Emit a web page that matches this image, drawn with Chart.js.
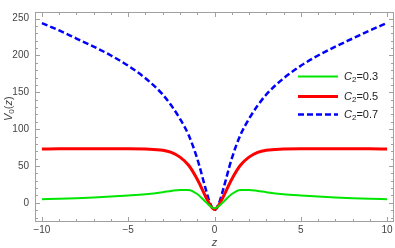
<!DOCTYPE html>
<html lang="en">
<head>
  <meta charset="UTF-8" />
  <title>V0(z) chart</title>
  <script src="https://cdn.jsdelivr.net/npm/chart.js"></script>
  <style>
    body { margin: 0; background: #fff; }
    canvas { display: block; }
  </style>
</head>
<body>
  <canvas id="chart" width="395" height="248"></canvas>

  <script>
    // values
    const zVals = [-10, -9, -8, -7, -6, -5, -4, -3, -2.5, -2, -1.5, -1, -0.5, -0.25, 0,
                   0.25, 0.5, 1, 1.5, 2, 2.5, 3, 4, 5, 6, 7, 8, 9, 10];
    const c03 = [5, 5.5, 6.3, 7.3, 8.5, 10, 11.8, 14.5, 16.2, 17.5, 17.5, 12, 1, -4.5, -7.5,
                 -4.5, 1, 12, 17.5, 17.5, 16.2, 14.5, 11.8, 10, 8.5, 7.3, 6.3, 5.5, 5];
    const c05 = [73, 73.3, 73.5, 73.5, 73.5, 73.5, 73, 71.5, 68.5, 62, 51, 32, 8, -3, -9,
                 -3, 8, 32, 51, 62, 68.5, 71.5, 73, 73.5, 73.5, 73.5, 73.5, 73.3, 73];
    const c07 = [244, 234, 223, 212, 200, 186, 169, 147, 132, 114, 92, 60, 18, -1, -10,
                 -1, 18, 60, 92, 114, 132, 147, 169, 186, 200, 212, 223, 234, 244];
    const seriesLabels = ['0.3', '0.5', '0.7'];
    const xMajor = [-10, -5, 0, 5, 10];
    const yMajor = [0, 50, 100, 150, 200, 250];

    const pts = arr => arr.map((v, i) => ({ x: zVals[i], y: v }));
    const frameCol = '#a0a0a0';

    // frame, inside ticks, axis titles and legend
    const decor = {
      id: 'decor',
      afterDraw(chart) {
        const ctx = chart.ctx;
        const a = chart.chartArea;
        const xs = chart.scales.x, ys = chart.scales.y;
        ctx.save();
        ctx.strokeStyle = frameCol;
        ctx.lineWidth = 1;
        ctx.strokeRect(a.left + 0.5, a.top + 0.5, a.right - a.left - 1, a.bottom - a.top - 1);
        ctx.beginPath();
        for (let z = -10; z <= 10; z++) {
          const px = Math.round(xs.getPixelForValue(z)) + 0.5;
          const len = (z % 5 === 0) ? 5 : 3;
          ctx.moveTo(px, a.bottom); ctx.lineTo(px, a.bottom - len);
          ctx.moveTo(px, a.top); ctx.lineTo(px, a.top + len);
        }
        for (let v = -20; v <= 250; v += 10) {
          const py = Math.round(ys.getPixelForValue(v)) + 0.5;
          const len = (v % 50 === 0) ? 5 : 3;
          ctx.moveTo(a.left, py); ctx.lineTo(a.left + len, py);
          ctx.moveTo(a.right, py); ctx.lineTo(a.right - len, py);
        }
        ctx.stroke();

        // axis titles
        ctx.fillStyle = '#444';
        ctx.textAlign = 'center';
        ctx.textBaseline = 'middle';
        ctx.font = 'italic 11px "Liberation Sans"';
        ctx.fillText('z', xs.getPixelForValue(0), 243);

        ctx.translate(9, 106);
        ctx.rotate(-Math.PI / 2);
        ctx.textAlign = 'left';
        let x = -15;
        ctx.font = 'italic 11px "Liberation Sans"';
        ctx.fillText('V', x, 0); x += ctx.measureText('V').width;
        ctx.font = '8px "Liberation Sans"';
        ctx.fillText('0', x, 3); x += ctx.measureText('0').width;
        ctx.font = '11px "Liberation Sans"';
        ctx.fillText('(', x, 0); x += ctx.measureText('(').width;
        ctx.font = 'italic 11px "Liberation Sans"';
        ctx.fillText('z', x, 0); x += ctx.measureText('z').width;
        ctx.font = '11px "Liberation Sans"';
        ctx.fillText(')', x, 0);
        ctx.setTransform(1, 0, 0, 1, 0, 0);

        // legend
        const rows = [76, 96, 114];
        chart.data.datasets.forEach((ds, i) => {
          const y = rows[i] + 0.5;
          ctx.strokeStyle = ds.borderColor;
          ctx.lineWidth = ds.borderWidth;
          ctx.setLineDash(ds.borderDash || []);
          ctx.beginPath();
          ctx.moveTo(298, y); ctx.lineTo(338, y);
          ctx.stroke();
          ctx.setLineDash([]);
          ctx.fillStyle = '#222';
          ctx.textAlign = 'left';
          ctx.textBaseline = 'middle';
          let tx = 344;
          ctx.font = 'italic 11px "Liberation Sans"';
          ctx.fillText('C', tx, y); tx += ctx.measureText('C').width;
          ctx.font = '8px "Liberation Sans"';
          ctx.fillText('2', tx, y + 3); tx += ctx.measureText('2').width;
          ctx.font = '11px "Liberation Sans"';
          ctx.fillText('=' + seriesLabels[i], tx, y);
        });
        ctx.restore();
      }
    };

    new Chart(document.getElementById('chart'), {
      type: 'line',
      data: {
        datasets: [
          { label: 'C2=0.3', data: pts(c03), borderColor: 'rgb(0,230,0)', borderWidth: 2 },
          { label: 'C2=0.5', data: pts(c05), borderColor: 'rgb(255,0,0)', borderWidth: 3 },
          { label: 'C2=0.7', data: pts(c07), borderColor: 'rgb(0,0,255)', borderWidth: 2.5, borderDash: [6, 3] }
        ]
      },
      options: {
        responsive: false,
        animation: false,
        devicePixelRatio: 1,
        layout: { padding: { top: 1, right: 1, left: 0, bottom: 0 } },
        elements: {
          point: { radius: 0 },
          line: { cubicInterpolationMode: 'monotone', fill: false }
        },
        plugins: { legend: { display: false }, tooltip: { enabled: false } },
        scales: {
          x: {
            type: 'linear',
            min: -10.4, max: 10.4,
            grid: { display: false, drawTicks: false },
            border: { display: false },
            afterBuildTicks: s => { s.ticks = xMajor.map(v => ({ value: v })); },
            afterFit: s => { s.height = 26; },
            ticks: {
              padding: 2,
              color: '#444',
              font: { family: 'Liberation Sans', size: 10 },
              callback: v => String(v).replace('-', '\u2212')
            }
          },
          y: {
            min: -26, max: 259,
            grid: { display: false, drawTicks: false },
            border: { display: false },
            afterBuildTicks: s => { s.ticks = yMajor.map(v => ({ value: v })); },
            afterFit: s => { s.width = 35; },
            ticks: {
              padding: 6,
              color: '#444',
              font: { family: 'Liberation Sans', size: 10 }
            }
          }
        }
      },
      plugins: [decor]
    });
  </script>
</body>
</html>
